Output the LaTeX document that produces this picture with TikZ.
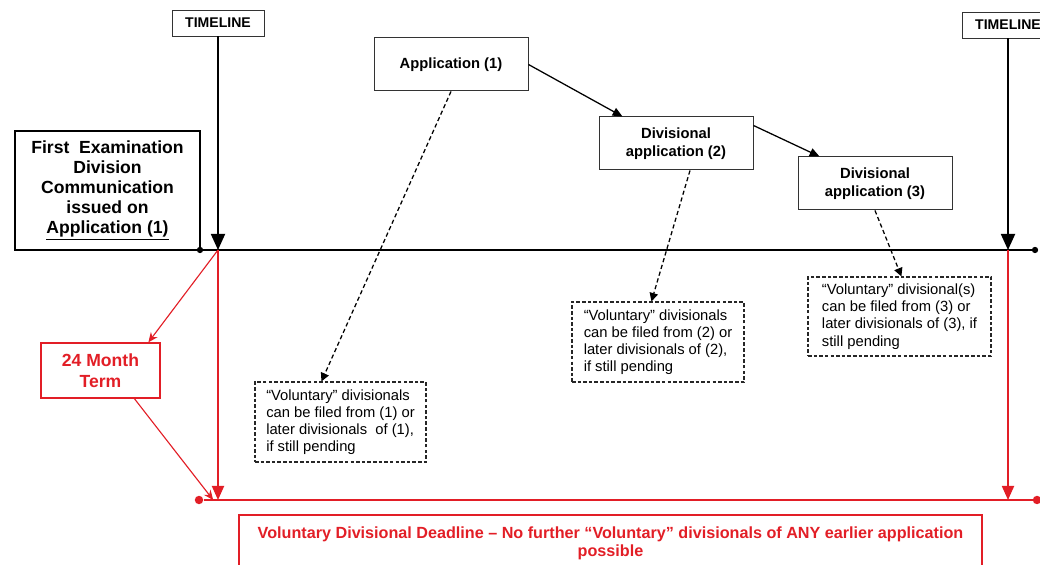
\documentclass[tikz,border=0pt]{standalone}
\usepackage{fontspec}
\setmainfont{Liberation Sans}
\usetikzlibrary{shapes.geometric, arrows.meta}
\definecolor{deadRed}{RGB}{226,30,38}
\tikzstyle{tag} = [rectangle, 
minimum width=2.3cm, 
minimum height=0.65cm,
text centered, 
draw=black!80, line width=0.6pt,
font=\bfseries\fontsize{10}{12}\selectfont]
\tikzstyle{issued} = [rectangle, 
minimum width=4.625cm, 
minimum height=2.975cm,
align=center, 
draw=black, line width=0.9pt,
font=\bfseries\fontsize{12.5}{14.2}\selectfont]
\tikzstyle{appBox} = [rectangle, 
minimum width=3.85cm, 
minimum height=1.325cm,
align=center, 
draw=black!80, line width=0.7pt,
font=\bfseries\fontsize{10.5}{12.8}\selectfont]
\tikzstyle{note} = [rectangle, 
minimum height=2cm,
align=left, 
draw=black!85, line width=0.8pt, dash pattern=on 2.5pt off 1.5pt,
font=\fontsize{10.5}{12.2}\selectfont]
\tikzstyle{term} = [rectangle, 
minimum width=2.975cm, 
minimum height=1.375cm,
align=center, 
draw=deadRed, line width=0.9pt, text=deadRed,
font=\bfseries\fontsize{12.5}{15}\selectfont]
\tikzstyle{deadline} = [rectangle, 
minimum width=18.575cm, 
minimum height=1.4cm,
align=center, 
draw=deadRed, line width=0.9pt, text=deadRed,
font=\bfseries\fontsize{11.5}{12.8}\selectfont]
\tikzstyle{dot} = [circle, fill=black, inner sep=0pt, minimum size=4.5pt]
\tikzstyle{redDot} = [circle, fill=deadRed, inner sep=0pt, minimum size=6pt]
\tikzstyle{timeline} = [line width=1.3pt, black]
\tikzstyle{bigArrow} = [line width=1.3pt, -{Triangle[width=0.35cm,length=0.4cm]}]
\tikzstyle{arrow} = [line width=0.9pt, -{Triangle[width=6pt,length=7pt]}]
\tikzstyle{dotArrow} = [line width=0.9pt, dash pattern=on 3pt off 2pt, -{Triangle[width=6pt,length=6pt]}]
\tikzstyle{redLine} = [line width=1.3pt, deadRed]
\tikzstyle{redArrow} = [line width=1.3pt, deadRed, -{Triangle[width=0.3cm,length=0.35cm]}]
\tikzstyle{redThin} = [line width=0.8pt, deadRed, -{Stealth[width=6pt,length=7pt]}]

\begin{document}
\begin{tikzpicture}[node distance=2cm]
\useasboundingbox (0,0) rectangle (26,14.125);
\node (tlLeft) [tag] at (5.45,13.55) {TIMELINE};
\node (tlRight) [tag, right of=tlLeft, xshift=17.75cm, yshift=-0.05cm] {TIMELINE};
\node (first) [issued] at (2.6875,9.3625) {First\ \ Examination\\Division\\Communication\\issued on\\\underline{Application (1)}};
\node (app1) [appBox] at (11.275,12.5125) {Application (1)};
\node (app2) [appBox, right of=app1, xshift=3.625cm, yshift=-1.975cm] {Divisional\\application (2)};
\node (app3) [appBox, right of=app2, xshift=2.975cm, yshift=-1cm] {Divisional\\application (3)};
\node (note1) [note, minimum width=4.275cm, below of=app1, xshift=-2.7625cm, yshift=-6.9375cm] {“Voluntary” divisionals\\can be filed from (1) or\\later divisionals\ \ of (1),\\if still pending};
\node (note2) [note, minimum width=4.3cm, below of=app2, xshift=-0.45cm, yshift=-2.9625cm] {“Voluntary” divisionals\\can be filed from (2) or\\later divisionals of (2),\\if still pending};
\node (note3) [note, minimum width=4.575cm, minimum height=1.975cm, below of=app3, xshift=0.6125cm, yshift=-1.325cm] {“Voluntary” divisional(s)\\can be filed from (3) or\\later divisionals of (3), if\\still pending};
\node (month) [term] at (2.5125,4.8625) {24 Month\\Term};
\node (deadline) [deadline] at (15.2625,0.55) {Voluntary Divisional Deadline -- No further “Voluntary” divisionals of ANY earlier application\\possible};
\node (dotL) [dot] at (5,7.875) {};
\node (dotR) [dot] at (25.875,7.875) {};
\node (redDotL) [redDot] at (4.975,1.625) {};
\node (redDotR) [redDot] at (25.925,1.625) {};
\coordinate (crossL) at (tlLeft |- dotL);
\coordinate (crossR) at (tlRight |- dotL);
\coordinate (endL) at (tlLeft |- redDotL);
\coordinate (endR) at (tlRight |- redDotL);

\draw [timeline] (dotL) -- (dotR);
\draw [bigArrow] (tlLeft) -- (crossL);
\draw [bigArrow] (tlRight) -- (crossR);
\draw [arrow] (app1.east) -- ([xshift=0.6cm]app2.north west);
\draw [arrow] ([yshift=0.45cm]app2.east) -- ([xshift=0.55cm]app3.north west);
\draw [dotArrow] (app1.south) -- ([xshift=1.675cm]note1.north west);
\draw [dotArrow] ([xshift=0.35cm]app2.south) -- ([xshift=2cm]note2.north west);
\draw [dotArrow] (app3.south) -- ([xshift=2.35cm]note3.north west);
\draw [redLine] (redDotL) -- (redDotR);
\draw [redArrow] (crossL) -- (endL);
\draw [redArrow] (crossR) -- (endR);
\draw [redThin] (crossL) -- ([xshift=2.7cm]month.north west);
\draw [redThin] ([xshift=2.35cm]month.south west) -- ([xshift=-0.12cm]endL);
\end{tikzpicture}
\end{document}
